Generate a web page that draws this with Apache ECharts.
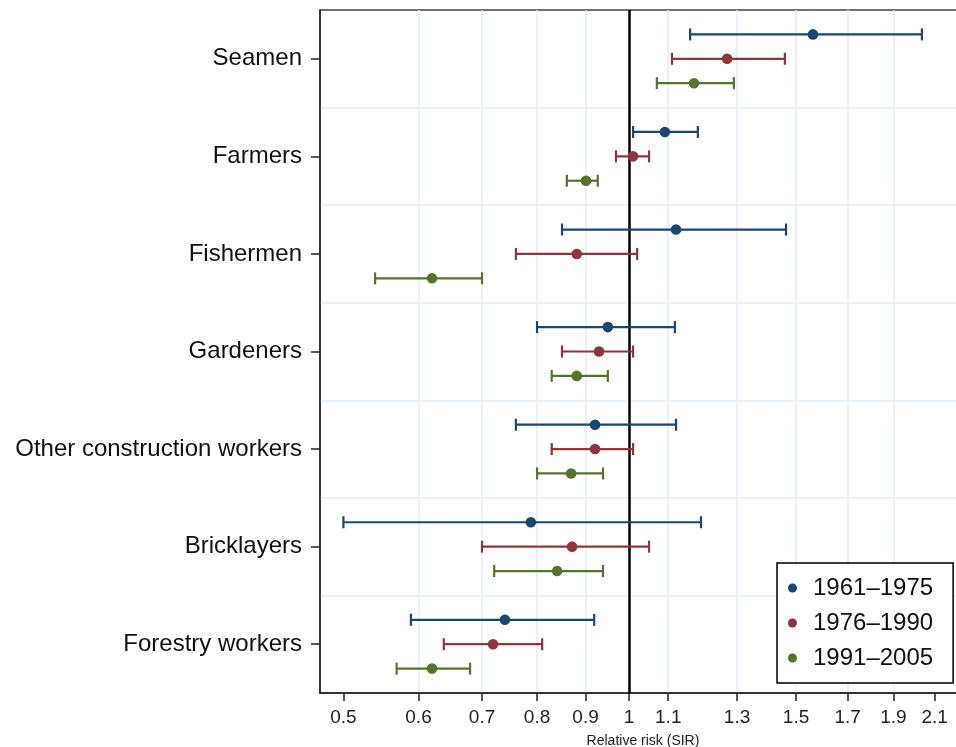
<!DOCTYPE html>
<html><head><meta charset="utf-8">
<script src="https://cdn.jsdelivr.net/npm/echarts@6/dist/echarts.min.js"></script>
<style>html,body{margin:0;padding:0;background:#fff;overflow:hidden}#c{width:956px;height:747px}</style>
</head><body><div id="c"></div>
<script>
const categories = ['Seamen','Farmers','Fishermen','Gardeners','Other construction workers','Bricklayers','Forestry workers'];
const periods = ['1961–1975','1976–1990','1991–2005'];

const est1961 = [1.563, 1.091, 1.121, 0.950, 0.921, 0.788, 0.740];
const lo1961  = [1.160, 1.010, 0.850, 0.800, 0.760, 0.500, 0.589];
const hi1961  = [2.036, 1.182, 1.464, 1.118, 1.121, 1.191, 0.919];

const est1976 = [1.269, 1.010, 0.881, 0.930, 0.921, 0.871, 0.719];
const lo1976  = [1.110, 0.969, 0.760, 0.850, 0.829, 0.700, 0.638];
const hi1976  = [1.460, 1.050, 1.020, 1.010, 1.010, 1.050, 0.810];

const est1991 = [1.171, 0.901, 0.620, 0.881, 0.869, 0.840, 0.620];
const lo1991  = [1.070, 0.860, 0.540, 0.829, 0.800, 0.721, 0.569];
const hi1991  = [1.290, 0.927, 0.700, 0.950, 0.939, 0.939, 0.680];

const xTicks = [0.5, 0.6, 0.7, 0.8, 0.9, 1, 1.1, 1.3, 1.5, 1.7, 1.9, 2.1];
const refValue = 1;

const colors = ['#1a476f', '#90353b', '#55752f'];
const offsets = [-0.25, 0, 0.25];
const FONT = 'Liberation Sans';
const GRIDC = '#e2eef6';

const seriesData = [
  [est1961, lo1961, hi1961],
  [est1976, lo1976, hi1976],
  [est1991, lo1991, hi1991]
];

function makeRender(k) {
  return function (params, api) {
    const cat = api.value(0);
    const c = api.coord([api.value(1), cat]);
    const lo = api.coord([api.value(2), cat]);
    const hi = api.coord([api.value(3), cat]);
    const band = api.size([0, 1], [1, cat])[1];
    const y = c[1] + offsets[k] * band;
    const col = colors[k];
    const ls = { stroke: col, lineWidth: 2.2 };
    return {
      type: 'group',
      children: [
        { type: 'line', shape: { x1: lo[0], y1: y, x2: hi[0], y2: y }, style: ls },
        { type: 'line', shape: { x1: lo[0], y1: y - 6, x2: lo[0], y2: y + 6 }, style: ls },
        { type: 'line', shape: { x1: hi[0], y1: y - 6, x2: hi[0], y2: y + 6 }, style: ls },
        { type: 'circle', shape: { cx: c[0], cy: y, r: 5.3 }, style: { fill: col } }
      ]
    };
  };
}

const series = seriesData.map(function (arrs, k) {
  return {
    name: periods[k],
    type: 'custom',
    z: 3,
    itemStyle: { color: colors[k] },
    renderItem: makeRender(k),
    encode: { x: [1, 2, 3], y: 0 },
    data: categories.map(function (_, i) { return [i, arrs[0][i], arrs[1][i], arrs[2][i]]; })
  };
});

series.push({
  name: 'ref',
  type: 'scatter',
  data: [],
  z: 1,
  markLine: {
    silent: true,
    z: 1,
    symbol: ['none', 'none'],
    label: { show: false },
    lineStyle: { color: '#000', width: 2.5, type: 'solid' },
    data: [{ xAxis: refValue }]
  }
});

const chart = echarts.init(document.getElementById('c'));
chart.setOption({
  animation: false,
  textStyle: { fontFamily: FONT },
  grid: {
    left: 320, top: 10, width: 646, height: 683,
    outerBoundsMode: 'none',
    containLabel: false,
    show: true, borderColor: '#444', borderWidth: 1.5, backgroundColor: '#fff'
  },
  legend: {
    data: periods.map(function (p) { return { name: p, icon: 'circle' }; }),
    orient: 'vertical',
    left: 777, top: 563,
    itemWidth: 9, itemHeight: 9, itemGap: 11,
    padding: [13, 20, 13, 11],
    borderColor: '#000', borderWidth: 1.5, backgroundColor: '#fff',
    textStyle: { fontFamily: FONT, fontSize: 24, lineHeight: 24, color: '#111', padding: [0, 0, 0, 11] },
    selectedMode: false
  },
  xAxis: {
    type: 'log',
    logBase: 10,
    min: 0.4724,
    max: 2.266,
    name: 'Relative risk (SIR)',
    nameLocation: 'middle',
    nameGap: 41,
    nameTextStyle: { fontFamily: FONT, fontSize: 14, color: '#222' },
    axisLine: { show: true, lineStyle: { color: '#222', width: 1.5 } },
    axisTick: { show: true, customValues: xTicks, length: 8, lineStyle: { color: '#222', width: 1.5 } },
    axisLabel: {
      customValues: xTicks, fontSize: 19, color: '#222', margin: 15, fontFamily: FONT,
      formatter: function (v) { return String(Number(Number(v).toFixed(2))); }
    },
    splitLine: { show: true, showMinLine: false, showMaxLine: false, lineStyle: { color: GRIDC, width: 1.5 } },
    minorTick: { show: false }
  },
  yAxis: {
    type: 'category',
    data: categories,
    inverse: true,
    axisLine: { show: true, lineStyle: { color: '#222', width: 1.5 } },
    axisTick: { show: true, alignWithLabel: true, length: 9, lineStyle: { color: '#222', width: 1.5 } },
    axisLabel: { fontSize: 24, color: '#111', margin: 18, fontFamily: FONT, padding: [3, 0, 0, 0] },
    splitLine: { show: true, showMinLine: false, showMaxLine: false, lineStyle: { color: GRIDC, width: 1.5 } }
  },
  series: series
});
</script>
</body></html>
